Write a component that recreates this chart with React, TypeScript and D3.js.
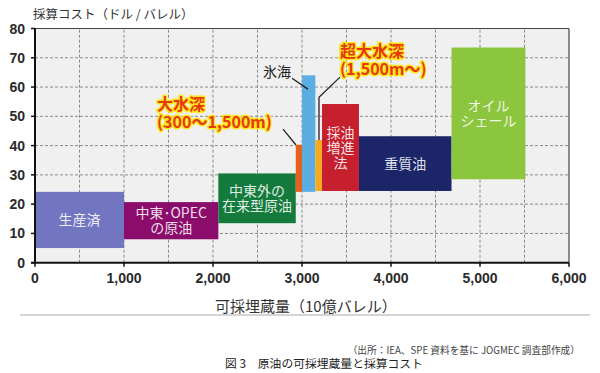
// Crude oil recoverable reserves vs. break-even cost
import React from 'react';
import * as d3 from 'd3';

// bar data: reserves range (10^9 bbl) and cost range ($/bbl)
const categories = ['生産済', '中東･OPEC|の原油', '中東外の|在来型原油', '大水深', '氷海', '超大水深', '採油|増進|法', '重質油', 'オイル|シェール'];
const reserveStart = [0, 1000, 2060, 2930, 3000, 3150, 3225, 3640, 4680];
const reserveEnd = [1000, 2060, 2930, 3000, 3150, 3225, 3640, 4680, 5510];
const costLow = [5, 8, 13.5, 24.2, 24.2, 24.5, 24.5, 24.5, 28.5];
const costHigh = [24.2, 20.7, 30.5, 40.3, 64, 41.9, 54.2, 43.2, 73.5];
const barColors = ['#7275bf', '#8c0c6c', '#157b3d', '#e4601c', '#5aaee2', '#f6aa22', '#c61f2e', '#1b2567', '#8cc53e'];
const showLabel = [true, true, true, false, false, false, true, true, true];

const xTicks = [0, 1000, 2000, 3000, 4000, 5000, 6000];
const yTicks = [0, 10, 20, 30, 40, 50, 60, 70, 80];
const xGrid = [500, 1000, 1500, 2000, 2500, 3000, 3500, 4000, 4500, 5000, 5500];
const yGrid = [10, 20, 30, 40, 50, 60, 70];

// callouts (data coordinates)
const calloutText = [['大水深', '(300〜1,500m)'], ['超大水深', '(1,500m〜)']];
const calloutAnchor = [[1371, 52.1], [3427, 70.2]];
const calloutLeader = [
  [[2787, 45.6], [2930, 40.3]],
  [[3427, 63.4], [3191, 56.5], [3191, 41.9]],
];
const iceAnchor = [2562, 63.4];
const iceLeader = [[2888, 63], [3067, 59.3]];

const W = 600;
const H = 373;
const JP = '"Noto Sans CJK JP", "Noto Sans", sans-serif';
const NUM = '"Liberation Sans", Arial, sans-serif';

export default function App() {
  const x = d3.scaleLinear().domain([0, 6000]).range([35, 569]);
  const y = d3.scaleLinear().domain([0, 80]).range([262.7, 28.5]);
  const fmt = d3.format(',');
  const line = d3.line<number[]>().x(d => x(d[0])).y(d => y(d[1]));

  return (
    <svg width={W} height={H} style={{ position: 'absolute', left: 0, top: 0, background: '#fff' }}>
      {/* plot background */}
      <rect x={x(0)} y={y(80)} width={x(6000) - x(0)} height={y(0) - y(80)} fill="#f0f0f0" />

      {/* grid */}
      {yGrid.map(v => (
        <line key={'gy' + v} x1={x(0)} x2={x(6000)} y1={y(v)} y2={y(v)} stroke="#8a8a8a" strokeWidth={1} strokeDasharray="3,2" />
      ))}
      {xGrid.map(v => (
        <line key={'gx' + v} x1={x(v)} x2={x(v)} y1={y(0)} y2={y(80)} stroke="#8a8a8a" strokeWidth={1} strokeDasharray="3,2" />
      ))}

      {/* frame top/right */}
      <line x1={x(0)} x2={x(6000)} y1={y(80)} y2={y(80)} stroke="#444" strokeWidth={1} />
      <line x1={x(6000)} x2={x(6000)} y1={y(80)} y2={y(0)} stroke="#444" strokeWidth={1.2} />

      {/* bars */}
      {categories.map((c, i) => (
        <rect
          key={'b' + i}
          x={x(reserveStart[i])}
          y={y(costHigh[i])}
          width={x(reserveEnd[i]) - x(reserveStart[i])}
          height={y(costLow[i]) - y(costHigh[i])}
          fill={barColors[i]}
        />
      ))}

      {/* bar labels */}
      {categories.map((c, i) => {
        if (!showLabel[i]) return null;
        const lines = c.split('|');
        const cx = x((reserveStart[i] + reserveEnd[i]) / 2);
        const cy = y((costLow[i] + costHigh[i]) / 2);
        const lh = 15;
        return (
          <text key={'l' + i} x={cx} textAnchor="middle" fontFamily={JP} fontSize={14} fill="#fff" fillOpacity={0.88}>
            {lines.map((t, j) => (
              <tspan key={j} x={cx} y={cy - ((lines.length - 1) * lh) / 2 + j * lh + 5}>{t}</tspan>
            ))}
          </text>
        );
      })}

      {/* axes */}
      <line x1={x(0)} x2={x(0)} y1={y(80)} y2={y(0) + 1} stroke="#111" strokeWidth={2} />
      <line x1={x(0) - 4} x2={x(6000)} y1={y(0)} y2={y(0)} stroke="#111" strokeWidth={2} />
      {yTicks.map(v => (
        <g key={'yt' + v}>
          <line x1={x(0) - 4} x2={x(0)} y1={y(v)} y2={y(v)} stroke="#111" strokeWidth={1.5} />
          <text x={25} y={y(v) + 5} textAnchor="end" fontFamily={NUM} fontWeight="bold" fontSize={14} fill="#2a2a2a">{v}</text>
        </g>
      ))}
      {xTicks.map(v => (
        <g key={'xt' + v}>
          <line x1={x(v)} x2={x(v)} y1={y(0)} y2={y(0) + 4} stroke="#111" strokeWidth={1.5} />
          <text x={x(v)} y={283} textAnchor="middle" fontFamily={NUM} fontWeight="bold" fontSize={14} fill="#2a2a2a">{fmt(v)}</text>
        </g>
      ))}

      {/* leaders */}
      {calloutLeader.map((pts, i) => (
        <path key={'ld' + i} d={line(pts) as string} fill="none" stroke="#222" strokeWidth={1.3} />
      ))}
      <path d={line(iceLeader) as string} fill="none" stroke="#222" strokeWidth={1.3} />
      <text x={x(iceAnchor[0])} y={y(iceAnchor[1])} fontFamily={JP} fontSize={14} fill="#222">氷海</text>

      {/* callouts */}
      {calloutText.map((lines, i) => (
        <text key={'c' + i} x={x(calloutAnchor[i][0])} y={y(calloutAnchor[i][1])} fontFamily={JP} fontWeight="bold" fontSize={16}
          fill="#e8380d" stroke="#ffe81a" strokeWidth={3} strokeLinejoin="round" paintOrder="stroke">
          {lines.map((t, j) => (
            <tspan key={j} x={x(calloutAnchor[i][0])} dy={j === 0 ? 0 : 18}>{t}</tspan>
          ))}
        </text>
      ))}

      {/* titles */}
      <text x={33} y={19} fontFamily={JP} fontSize={12.5} fill="#333">採算コスト（ドル / バレル）</text>
      <text x={215} y={312} fontFamily={JP} fontSize={15} fill="#333">可採埋蔵量（10億バレル）</text>
      <line x1={20} x2={590} y1={315} y2={315} stroke="#aaa" strokeWidth={1} />
      <text x={580} y={354} textAnchor="end" fontFamily={JP} fontSize={9.7} fill="#444">（出所：IEA、SPE 資料を基に JOGMEC 調査部作成）</text>
      <text x={225} y={368} fontFamily={JP} fontSize={11.8} fill="#222">図 3　原油の可採埋蔵量と採算コスト</text>
    </svg>
  );
}
